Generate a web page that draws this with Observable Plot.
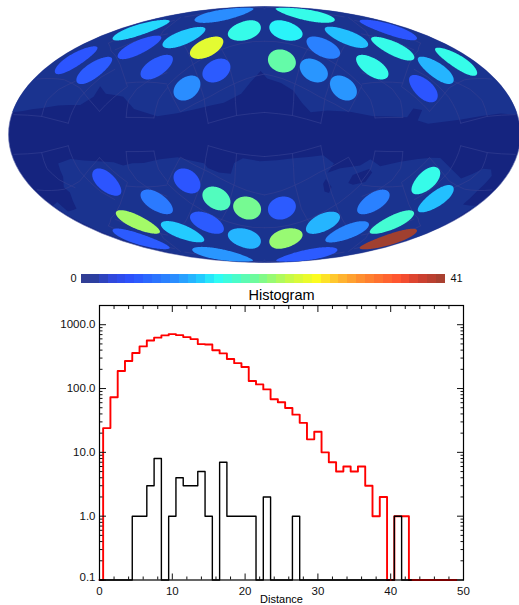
<!DOCTYPE html>
<html><head><meta charset="utf-8">
<script src="https://cdn.jsdelivr.net/npm/d3@7"></script>
<script src="https://cdn.jsdelivr.net/npm/@observablehq/plot@0.6"></script>
<style>html,body{margin:0;padding:0;background:#fff;overflow:hidden}
#w{position:relative;width:519px;height:605px;overflow:hidden}
#w>*{position:absolute;left:0}</style></head><body><div id="w"></div>
<script>
// Sky map: spot centres (lon, lat) and event counts
const spotLon=[-121,-160,-125,-97,-30,-59,-164,-137,-88,-38,-55,122,32,161,99,60,126,165,15,138,39,88,56,115,
 -115,-55,-88,-38,-15,-127,-60,-99,-30,-160,-128,117,15,89,138,61,128,100,32,161,130];
const spotLat=[79,59,51,61,70,56,38,35,41,41,29,79,70,59,61,56,50,37,48,35,41,41,29,26,
 -27,-29,-41,-41,-48,-51,-57,-61,-70,-59,-79,-26,-48,-41,-35,-57,-51,-61,-70,-59,-79];
const spotCount=[10.5,14,6,13.5,16,25,6,6.5,6.5,6.5,10.5,16,15,6,13,9.5,16,16,19,12.5,11,16,11,6,
 6,6,9,18,20,22,6.5,13.5,12.5,6.5,11,16,6.5,9.5,13,12.5,17,10,21.5,41,6.5];
// Exposure regions, lon/lat
const northRegion=[[179,9],[166,10],[133,8],[108,6],[101,8],[106,14],[100,15],[94,10],[71,11],[56,14],[41,15],[30,14],[25,20],[20,28],[12,33],[2,36],[-3,41],[-16,26],[-27,20],[-44,16],[-57,13],[-70,11],[-87,15],[-98,22],[-112,23],[-120,27],[-120,21],[-127,16],[-144,15],[-157,13],[-171,11],[-180,10]];
const southRegion=[[-144,-15],[-133,-13],[-113,-15],[-102,-16],[-96,-18],[-89,-17],[-81,-17],[-69,-15],[-57,-14],[-40,-18],[-38,-21],[-31,-24],[-23,-25],[-20,-18],[-14,-15],[-3,-17],[19,-15],[38,-13],[46,-18],[43,-24],[51,-21],[64,-19],[70,-15],[78,-19],[91,-16],[103,-14],[112,-13],[119,-13],[143,-23],[156,-17],[163,-17],[167,-20],[165,-28],[166,-35],[179,-34],[178,-37],[180,-47],[179,-58],[179,-73],[0,-89],[-177,-73],[-177,-55],[-178,-44],[-179,-34],[-171,-33],[-173,-38],[-162,-38],[-151,-30],[-152,-27],[-146,-22]];
const holes=[[[60,-30],[61,-25],[71,-21],[74,-23],[72,-29],[64,-31]],[[42,-31],[43,-28],[49,-33],[49,-37],[45,-36]]];
// Grid of one quadrant (mirrored to the other three)
const gridLines=[[[-178,9],[-154,9],[-132,6]],[[-154,9],[-155,17],[-151,23],[-143,28]],[[-132,6],[-130,20],[-125,32],[-120,37]],[[-177,26],[-153,28],[-135,25],[-111,13]],[[-111,13],[-99,28],[-120,40],[-144,46],[-159,49]],[[-91,10],[-72,10]],[[-91,10],[-93,20],[-91,27],[-84,34],[-76,38]],[[-72,10],[-72,21],[-69,29]],[[-102,30],[-71,31]],[[-70,30],[-55,14],[-37,24],[-13,36],[0,39]],[[-70,30],[-61,43],[-46,54],[0,62]],[[-36,7],[-18,12],[0,14]],[[-36,7],[-41,23],[-51,37],[-88,57]],[[-18,12],[-21,30],[-32,48],[-51,59]],[[-142,47],[-138,53],[-121,61]],[[-159,49],[-161,59],[-155,68]],[[-161,70],[-133,62],[-115,55]],[[-159,71],[-149,79],[0,88]]];
// Colour table
const colorStops=[0,1.5,3.6,5.8,10.7,13.4,15.3,17.9,20.1,23.9,26.5,28.8,31.4,35.9,38.2,41];
const colorValues=["#333d8f","#2c3fa0","#3048e0","#2c52ff","#2a90ff","#22c8ff","#2cfcf8","#50fcc0","#78fa90","#d0fa40","#fcfc20","#ffc030","#ff9030","#ff5030","#d04030","#a04030"];
const colorBands=d3.range(41);
// Histogram, bins 0..49
const allEvents=[0,24,73,188,270,360,457,567,627,680,712,687,640,595,497,490,397,355,290,250,217,131,116,97,68,61,49.5,39,29,16,21,10,7,5,6,5,6,3,1,2,0,1,1,0,0,0,0,0,0,0];
const selected=[0,0,0,0,0,1,1,3,8,0,1,4,3,3,5,1,0,7,1,1,1,1,0,2,0,0,0,1,0,0,0,0,0,0,0,0,0,0,0,0,0,1,0,0,0,0,0,0,0,0];
const xMajor=[0,10,20,30,40,50];
const xMinor=[2,4,6,8,12,14,16,18,22,24,26,28,32,34,36,38,42,44,46,48];
const yMajor=[0.1,1,10,100,1000];
const yMinor=[0.2,0.3,0.4,0.5,0.6,0.7,0.8,0.9,2,3,4,5,6,7,8,9,20,30,40,50,60,70,80,90,200,300,400,500,600,700,800,900,2000];
const FLOOR=0.1;

const S2=Math.SQRT2;
const hammer=(l,p)=>{const d=Math.sqrt(1+Math.cos(p)*Math.cos(l/2));return [2*S2*Math.cos(p)*Math.sin(l/2)/d,S2*Math.sin(p)/d];};
const proj=d3.geoProjection(hammer).scale(256/(2*S2)).translate([264,134]).precision(.2);
const colorOpt={type:"linear",domain:colorStops,range:colorValues};
const font={fontFamily:"'Liberation Sans',Arial,sans-serif",background:"transparent",color:"#111"};
const w=document.getElementById("w");
const spots=spotLon.map((lon,i)=>Object.assign(d3.geoCircle().center([lon,spotLat[i]]).radius(8)(),{count:spotCount[i]}));
const mirrored=[[1,1],[-1,1],[1,-1],[-1,-1]].flatMap(([a,b])=>gridLines.map(l=>({type:"LineString",coordinates:l.map(([x,y])=>[a*x,b*y])})));
const map=Plot.plot({width:519,height:270,margin:0,projection:proj,color:colorOpt,style:font,
 marks:[
  Plot.sphere({fill:"#15247f",stroke:"#6a74b0",strokeWidth:.6}),
  Plot.geo([{type:"Polygon",coordinates:[northRegion.concat([northRegion[0]])]},{type:"Polygon",coordinates:[southRegion.concat([southRegion[0]])]}],{fill:"#1a338f"}),
  Plot.geo(holes.map(h=>({type:"Polygon",coordinates:[h.concat([h[0]])]})),{fill:"#15247f"}),
  Plot.geo(mirrored,{stroke:"#323e90",strokeWidth:.7,fill:"none"}),
  Plot.geo(spots,{fill:d=>d.count})
 ]});
map.style.top="0";w.append(map);

const bar=Plot.plot({width:519,height:22,marginLeft:81,marginRight:74,marginTop:4,marginBottom:9.5,
 x:{domain:[0,41],axis:null},color:colorOpt,style:{...font,fontSize:"11px"},
 marks:[
  Plot.rectX(colorBands,{x1:d=>d,x2:d=>d+1,fill:d=>d+.5,shapeRendering:"crispEdges"}),
  Plot.text([0],{frameAnchor:"left",dx:-5,text:d=>String(d),textAnchor:"end",fontSize:11}),
  Plot.text([41],{frameAnchor:"right",dx:5,text:d=>String(d),textAnchor:"start",fontSize:11})
 ]});
bar.style.top="270px";w.append(bar);

const bins=d3.range(50);
const row=a=>bins.map(n=>({n,v:Math.max(a[n],FLOOR)}));
const redRow=row(allEvents),blackRow=row(selected);
const hist=Plot.plot({width:519,height:320,marginLeft:99,marginRight:56,marginTop:20,marginBottom:25.5,
 x:{domain:[0,50],axis:null},y:{type:"log",domain:[0.1,2000],axis:null},style:{...font,fontSize:"11.5px"},
 marks:[
  Plot.line(redRow,{x:"n",y:"v",curve:"step",stroke:"#ff0000",strokeWidth:1.9}),
  Plot.line(blackRow,{x:"n",y:"v",curve:"step",stroke:"#000",strokeWidth:1.4}),
  Plot.axisX({anchor:"bottom",ticks:xMajor,tickSize:0,tickPadding:7,label:null,tickFormat:d=>String(d)}),
  Plot.axisX({anchor:"bottom",ticks:xMajor,tickSize:-6,tickFormat:()=>"",label:null}),
  Plot.axisX({anchor:"top",ticks:xMajor,tickSize:-6,tickFormat:()=>"",label:null}),
  Plot.axisX({anchor:"bottom",ticks:xMinor,tickSize:-3,tickFormat:()=>"",label:null}),
  Plot.axisX({anchor:"top",ticks:xMinor,tickSize:-3,tickFormat:()=>"",label:null}),
  Plot.axisY({anchor:"left",ticks:yMajor.slice(1),tickSize:0,tickPadding:4,label:null,tickFormat:d=>d.toFixed(1)}),
  Plot.axisY({anchor:"left",ticks:[0.1],tickSize:0,tickPadding:4,label:null,dy:-3,tickFormat:d=>d.toFixed(1)}),
  Plot.axisY({anchor:"left",ticks:yMajor,tickSize:-7,tickFormat:()=>"",label:null}),
  Plot.axisY({anchor:"right",ticks:yMajor,tickSize:-7,tickFormat:()=>"",label:null}),
  Plot.axisY({anchor:"left",ticks:yMinor,tickSize:-3.5,tickFormat:()=>"",label:null}),
  Plot.axisY({anchor:"right",ticks:yMinor,tickSize:-3.5,tickFormat:()=>"",label:null}),
  Plot.frame({stroke:"#000",strokeWidth:1.2}),
  Plot.line(redRow.filter(d=>d.n>=43),{x:"n",y:"v",stroke:"#7a0000",strokeWidth:1.9}),
  Plot.line(redRow.filter(d=>d.n==40),{x:d=>d.n,y:"v",stroke:"#7a0000",strokeWidth:1.9,marker:null}),
  Plot.text(["Histogram"],{frameAnchor:"top",dy:-6,lineAnchor:"bottom",fontSize:14.5,fill:"#000"}),
  Plot.text(["Distance"],{frameAnchor:"bottom",dy:15,lineAnchor:"top",fontSize:11,fill:"#000"})
 ]});
hist.style.top="285px";w.append(hist);
</script></body></html>
